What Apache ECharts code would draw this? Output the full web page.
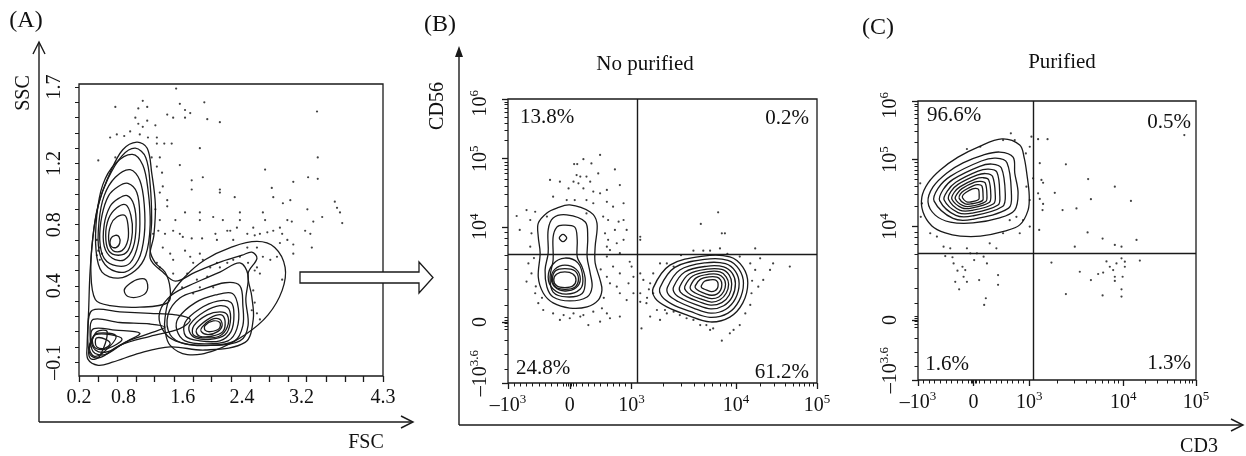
<!DOCTYPE html>
<html>
<head>
<meta charset="utf-8">
<title>NK cell purification</title>
<script src="https://cdn.jsdelivr.net/npm/echarts@6/dist/echarts.min.js"></script>
<style>
  html, body { margin: 0; padding: 0; background: #fff; }
  #chart { width: 1246px; height: 456px; }
</style>
</head>
<body>
<div id="chart"></div>
<script>
// ---------- panel A : FSC / SSC ----------
const fscTicks = [0.2, 0.8, 1.6, 2.4, 3.2, 4.3];
const fscLabels = ['0.2', '0.8', '1.6', '2.4', '3.2', '4.3'];
const fscTickMarks = [0.2, 0.46, 0.71, 0.97, 1.22, 1.48, 1.74, 1.99, 2.25, 2.51, 2.76, 3.02, 3.27, 3.53, 3.79, 4.04, 4.3];
const sscTicks = [-0.1, 0.4, 0.8, 1.2, 1.7];
const sscLabels = ['–0.1', '0.4', '0.8', '1.2', '1.7'];
const sscTickMarks = [-0.1, 0, 0.1, 0.2, 0.3, 0.4, 0.5, 0.6, 0.7, 0.8, 0.9, 1.0, 1.1, 1.2, 1.3, 1.4, 1.5, 1.6, 1.7];

// contour rings, [FSC, SSC]
const ringsA = [
  [[0.98,1.34],[1.12,1.30],[1.18,1.14],[1.23,0.93],[1.21,0.73],[1.16,0.58],[1.33,0.49],[1.50,0.43],[1.77,0.49],[2.13,0.56],[2.40,0.60],[2.53,0.62],[2.60,0.58],[2.48,0.48],[2.53,0.33],[2.55,0.18],[2.44,0.03],[1.90,-0.02],[1.43,0.00],[1.02,-0.04],[0.65,-0.10],[0.46,-0.12],[0.32,-0.08],[0.31,0.01],[0.33,0.24],[0.35,0.50],[0.40,0.77],[0.48,0.96],[0.62,1.14],[0.79,1.29]],
  [[0.96,1.30],[1.10,1.24],[1.16,1.06],[1.18,0.83],[1.16,0.63],[1.23,0.55],[1.36,0.49],[1.43,0.38],[1.40,0.29],[1.02,0.26],[0.62,0.27],[0.42,0.31],[0.36,0.50],[0.39,0.73],[0.46,0.93],[0.59,1.10],[0.78,1.25]],
  // left lobe (lymphocytes)
  [[0.92,1.26],[1.06,1.19],[1.13,1.03],[1.16,0.80],[1.10,0.60],[0.96,0.50],[0.73,0.45],[0.51,0.49],[0.43,0.63],[0.44,0.86],[0.52,1.06],[0.69,1.20]],
  [[0.89,1.16],[1.02,1.09],[1.08,0.93],[1.08,0.73],[1.00,0.57],[0.82,0.49],[0.59,0.52],[0.47,0.63],[0.47,0.82],[0.54,0.99],[0.69,1.11]],
  [[0.86,1.07],[0.98,1.01],[1.02,0.86],[1.00,0.68],[0.89,0.55],[0.71,0.53],[0.54,0.58],[0.48,0.70],[0.51,0.86],[0.60,0.99],[0.73,1.05]],
  [[0.85,0.99],[0.94,0.93],[0.97,0.80],[0.93,0.65],[0.81,0.57],[0.65,0.58],[0.54,0.66],[0.54,0.80],[0.62,0.92],[0.73,0.97]],
  [[0.83,0.93],[0.90,0.86],[0.92,0.75],[0.86,0.63],[0.73,0.60],[0.60,0.63],[0.56,0.73],[0.60,0.84],[0.71,0.91]],
  [[0.82,0.86],[0.86,0.80],[0.86,0.70],[0.78,0.63],[0.66,0.63],[0.60,0.70],[0.63,0.80],[0.71,0.85]],
  [[0.69,0.73],[0.74,0.72],[0.75,0.68],[0.70,0.65],[0.63,0.66],[0.63,0.71]],
  // small island
  [[0.85,0.40],[0.98,0.44],[1.10,0.44],[1.12,0.37],[1.02,0.33],[0.86,0.33],[0.81,0.37]],
  // debris, bottom left
  [[0.38,0.24],[0.75,0.23],[1.16,0.22],[1.50,0.21],[1.70,0.18],[1.56,0.12],[1.16,0.07],[0.75,0.01],[0.48,-0.07],[0.35,-0.05],[0.32,0.11]],
  [[0.39,0.18],[0.75,0.16],[1.16,0.15],[1.36,0.13],[1.16,0.09],[0.82,0.03],[0.55,-0.05],[0.39,-0.03],[0.35,0.08]],
  [[0.40,0.12],[0.69,0.11],[1.02,0.09],[0.86,0.04],[0.59,-0.03],[0.42,-0.02],[0.36,0.06]],
  [[0.42,0.08],[0.62,0.08],[0.78,0.05],[0.59,-0.01],[0.43,-0.01],[0.38,0.04]],
  [[0.44,0.06],[0.56,0.05],[0.62,0.02],[0.54,-0.01],[0.44,0.00],[0.42,0.03]],
  [[0.37,0.05],[0.46,0.09],[0.70,0.07],[0.52,-0.04],[0.40,-0.06],[0.34,-0.01]],
  [[0.36,0.02],[0.44,0.10],[0.58,0.10],[0.48,-0.06],[0.37,-0.08],[0.33,-0.04]],
  // gated population
  [[1.29,0.23],[1.45,0.34],[1.77,0.42],[2.10,0.49],[2.37,0.55],[2.48,0.47],[2.45,0.31],[2.48,0.14],[2.37,0.04],[1.90,0.01],[1.50,0.04],[1.32,0.12]],
  [[1.40,0.21],[1.56,0.32],[1.83,0.37],[2.17,0.42],[2.37,0.40],[2.41,0.27],[2.41,0.14],[2.30,0.04],[1.97,0.01],[1.63,0.02],[1.43,0.08]],
  [[1.54,0.19],[1.77,0.29],[2.04,0.34],[2.27,0.35],[2.35,0.25],[2.33,0.12],[2.21,0.04],[1.90,0.02],[1.63,0.04],[1.52,0.11]],
  [[1.63,0.16],[1.83,0.25],[2.07,0.30],[2.25,0.29],[2.29,0.21],[2.25,0.10],[2.10,0.04],[1.83,0.04],[1.64,0.07]],
  [[1.70,0.15],[1.89,0.23],[2.10,0.27],[2.22,0.25],[2.24,0.16],[2.17,0.08],[1.97,0.05],[1.77,0.06],[1.69,0.10]],
  [[1.75,0.14],[1.93,0.21],[2.10,0.23],[2.20,0.21],[2.20,0.13],[2.09,0.07],[1.87,0.06],[1.74,0.08]],
  [[1.81,0.13],[1.97,0.19],[2.12,0.21],[2.17,0.17],[2.14,0.10],[1.99,0.07],[1.83,0.07],[1.78,0.10]],
  [[1.86,0.13],[1.99,0.18],[2.10,0.18],[2.13,0.14],[2.07,0.10],[1.94,0.08],[1.85,0.10]],
  [[1.90,0.14],[2.01,0.17],[2.10,0.16],[2.09,0.12],[1.97,0.10],[1.90,0.11]]
];
const gateA = [[1.36,0.19],[1.43,0.33],[1.63,0.46],[1.90,0.57],[2.24,0.65],[2.60,0.69],[2.84,0.65],[2.98,0.52],[2.94,0.37],[2.75,0.21],[2.44,0.08],[2.04,-0.02],[1.66,-0.05],[1.43,0.01],[1.36,0.11]];

const dotsA = [
  [1.51,1.69],[1.06,1.61],[0.69,1.57],[1.00,1.56],[1.12,1.57],[1.56,1.59],[1.63,1.55],[1.70,1.53],[1.89,1.60],[1.39,1.52],
  [1.47,1.50],[1.63,1.50],[1.93,1.49],[2.10,1.47],[0.96,1.50],[1.00,1.46],[1.12,1.48],[1.06,1.44],[1.23,1.45],[0.62,1.37],
  [0.71,1.39],[0.81,1.38],[0.89,1.41],[1.02,1.39],[1.13,1.37],[1.25,1.37],[1.25,1.33],[1.35,1.33],[1.45,1.33],[1.83,1.30],
  [3.41,1.54],[0.46,1.22],[0.69,1.24],[1.56,1.19],[1.18,1.24],[1.29,1.24],[1.25,1.18],[1.32,1.14],[2.71,1.16],[1.87,1.11],
  [3.42,1.24],[3.42,1.10],[3.29,1.11],[3.09,1.08],[1.72,1.09],[1.72,1.03],[2.10,1.03],[2.10,1.01],[2.30,0.98],[2.80,1.04],
  [2.82,0.98],[1.33,1.05],[1.29,1.01],[1.39,0.96],[1.23,0.90],[1.39,0.92],[2.95,0.94],[3.05,0.96],[3.65,0.95],[3.68,0.91],
  [3.72,0.88],[3.75,0.81],[3.28,0.90],[3.48,0.85],[3.36,0.82],[3.25,0.76],[3.32,0.74],[3.34,0.65],[3.09,0.67],[3.07,0.82],
  [3.01,0.83],[2.91,0.78],[2.82,0.76],[2.68,0.88],[2.71,0.83],[2.55,0.78],[2.37,0.88],[2.37,0.83],[2.33,0.78],[2.24,0.76],
  [2.14,0.83],[2.01,0.85],[1.83,0.88],[1.83,0.83],[1.63,0.88],[1.50,0.83],[1.47,0.76],[1.29,0.83],[1.27,0.76],[1.20,0.74],
  [1.36,0.74],[1.56,0.74],[1.60,0.72],[1.72,0.71],[1.86,0.71],[2.04,0.74],[2.06,0.70],[2.20,0.76],[2.28,0.70],[2.47,0.74],
  [2.57,0.73],[2.64,0.74],[2.74,0.75],[2.94,0.74],[2.91,0.68],[3.01,0.70],[3.09,0.61],[2.94,0.44],[2.87,0.59],[2.78,0.57],
  [2.68,0.59],[2.60,0.52],[2.57,0.50],[2.64,0.48],[2.55,0.37],[2.57,0.29],[2.60,0.22],[2.64,0.18],[2.53,0.24],[1.33,0.65],
  [1.43,0.61],[1.47,0.57],[1.63,0.63],[1.70,0.59],[1.74,0.55],[1.83,0.61],[1.87,0.57],[1.97,0.52],[2.06,0.55],[2.10,0.52],
  [2.20,0.55],[2.28,0.57],[1.66,0.48],[1.79,0.44],[1.93,0.46],[1.59,0.39],[1.74,0.35],[1.83,0.39],[2.01,0.39],[1.47,0.48],
  [1.29,0.52],[1.25,0.55],[0.48,0.65],[0.46,0.63],[0.44,0.60],[0.51,0.61],[0.48,0.57],[0.44,0.70],[2.47,0.65],[2.37,0.59],
  [2.48,0.55],[2.60,0.65]
];

// ---------- panels B and C : CD3 / CD56 (display scale) ----------
const cd3TickPos = [0, 1, 2, 3.69, 5];
const cd3TickText = ['–10{s|3}', '0', '10{s|3}', '10{s|4}', '10{s|5}'];
const cd3Minor = [0.1, 0.2, 0.3, 0.4, 0.5, 0.6, 0.7, 0.8, 0.9, 0.95, 0.97, 1.03, 1.05, 1.1, 1.2, 1.3, 1.4, 1.5, 1.6, 1.7, 1.8, 1.9,
  2.51, 2.81, 3.02, 3.18, 3.31, 3.43, 3.53, 3.61, 4.08, 4.31, 4.48, 4.61, 4.71, 4.80, 4.87, 4.94];
const cd56TickPos = [0, 2.15, 5.5, 7.9, 10];
const cd56LabelPos = [0.35, 2.15, 5.5, 7.9, 9.85];
const cd56TickText = ['–10{s|3.6}', '0', '10{s|4}', '10{s|5}', '10{s|6}'];
const cd56Minor = [0.5, 1.0, 1.51, 1.9, 2.0, 2.1, 2.2, 2.3, 2.75, 3.3, 4.0, 4.5, 4.85, 5.1, 5.3,
  6.22, 6.64, 6.94, 7.18, 7.37, 7.53, 7.67, 7.79, 8.53, 8.90, 9.16, 9.37, 9.53, 9.67, 9.80, 9.90];

// quadrant gates [CD3, CD56]
const quadB = [2.09, 4.54];
const quadC = [2.07, 4.55];
const pctB = ['13.8%', '0.2%', '24.8%', '61.2%'];
const pctC = ['96.6%', '0.5%', '1.6%', '1.3%'];

const ringsB = [
  [[1.00,6.27],[1.33,6.02],[1.44,5.63],[1.41,4.79],[1.41,4.23],[1.49,3.63],[1.52,3.27],[1.46,2.92],[1.28,2.68],[1.00,2.64],[0.73,2.82],[0.57,3.17],[0.49,3.73],[0.52,4.58],[0.49,5.14],[0.49,5.63],[0.63,5.99],[0.79,6.16]],
  [[0.95,5.92],[1.25,5.67],[1.29,5.14],[1.28,4.44],[1.33,3.87],[1.36,3.38],[1.28,3.03],[1.00,2.89],[0.73,3.03],[0.63,3.38],[0.60,3.98],[0.65,4.58],[0.65,5.39],[0.73,5.81]],
  [[0.89,5.56],[1.08,5.49],[1.12,5.04],[1.12,4.44],[1.20,4.08],[1.25,3.63],[1.20,3.15],[0.95,3.03],[0.73,3.20],[0.68,3.73],[0.73,4.33],[0.73,5.14],[0.79,5.49]],
  [[0.83,5.11],[0.89,5.23],[0.95,5.11],[0.89,4.98]],
  [[0.92,4.40],[1.13,4.23],[1.21,3.73],[1.17,3.31],[0.94,3.13],[0.73,3.31],[0.65,3.73],[0.73,4.19]],
  [[0.92,4.15],[1.10,4.01],[1.17,3.66],[1.10,3.35],[0.92,3.24],[0.76,3.38],[0.70,3.70],[0.76,4.01]],
  [[0.92,4.03],[1.08,3.95],[1.14,3.66],[1.08,3.37],[0.92,3.30],[0.77,3.38],[0.72,3.66],[0.77,3.95]],
  [[0.92,3.91],[1.05,3.84],[1.10,3.63],[1.05,3.42],[0.92,3.36],[0.79,3.42],[0.74,3.63],[0.79,3.84]],
  // CD3+ population
  [[2.35,3.35],[2.62,4.15],[3.16,4.47],[3.59,4.44],[3.80,4.08],[3.88,3.52],[3.80,2.82],[3.59,2.32],[3.27,2.15],[2.90,2.39],[2.57,2.68],[2.38,2.99]],
  [[2.46,3.36],[2.70,4.07],[3.18,4.35],[3.56,4.32],[3.74,4.00],[3.81,3.51],[3.74,2.90],[3.56,2.46],[3.27,2.31],[2.95,2.52],[2.66,2.77],[2.49,3.05]],
  [[2.58,3.37],[2.78,3.98],[3.19,4.23],[3.52,4.20],[3.68,3.93],[3.74,3.50],[3.68,2.97],[3.52,2.59],[3.28,2.46],[3.00,2.64],[2.75,2.87],[2.60,3.10]],
  [[2.68,3.39],[2.86,3.91],[3.21,4.11],[3.49,4.09],[3.63,3.86],[3.68,3.50],[3.63,3.04],[3.49,2.72],[3.28,2.61],[3.04,2.76],[2.83,2.95],[2.70,3.15]],
  [[2.78,3.40],[2.93,3.84],[3.22,4.01],[3.46,4.00],[3.58,3.80],[3.62,3.49],[3.58,3.10],[3.46,2.83],[3.28,2.74],[3.08,2.87],[2.90,3.03],[2.79,3.20]],
  [[2.86,3.40],[2.99,3.77],[3.24,3.92],[3.43,3.91],[3.53,3.74],[3.57,3.48],[3.53,3.16],[3.43,2.93],[3.29,2.85],[3.12,2.96],[2.96,3.10],[2.88,3.24]],
  [[2.95,3.41],[3.05,3.71],[3.25,3.83],[3.41,3.82],[3.49,3.68],[3.52,3.48],[3.49,3.22],[3.41,3.03],[3.29,2.97],[3.15,3.06],[3.03,3.17],[2.96,3.28]],
  [[3.03,3.42],[3.11,3.65],[3.26,3.74],[3.38,3.73],[3.44,3.63],[3.46,3.47],[3.44,3.27],[3.38,3.13],[3.29,3.09],[3.19,3.15],[3.10,3.23],[3.04,3.32]],
  [[3.13,3.43],[3.18,3.58],[3.27,3.63],[3.35,3.63],[3.39,3.56],[3.40,3.46],[3.39,3.34],[3.35,3.25],[3.29,3.22],[3.23,3.26],[3.17,3.31],[3.13,3.37]]
];

const dotsB = [
  [1.49,8.03],[1.22,7.88],[1.07,7.71],[1.12,7.71],[1.35,7.73],[1.73,7.52],[1.46,7.38],[1.11,7.32],[1.17,7.27],[1.27,7.27],
  [1.33,7.09],[1.06,7.09],[1.14,7.03],[0.84,7.09],[0.68,7.15],[0.98,6.85],[1.22,6.85],[1.38,6.74],[1.49,6.68],[1.60,6.80],
  [1.81,6.97],[0.73,6.56],[0.95,6.44],[1.08,6.44],[1.27,6.44],[1.38,6.33],[1.60,6.38],[1.70,6.21],[1.87,6.33],[0.30,6.09],
  [0.44,6.03],[0.36,5.74],[0.63,5.86],[1.27,5.97],[1.54,5.86],[1.62,5.74],[1.79,5.68],[0.14,5.88],[1.73,5.39],[1.87,5.74],
  [1.92,5.39],[0.19,5.39],[0.38,5.27],[1.57,5.27],[1.62,5.04],[1.65,4.68],[1.76,4.92],[1.81,4.57],[1.60,4.45],[1.70,4.10],
  [1.81,3.86],[1.60,3.74],[1.65,3.51],[1.76,3.39],[1.81,3.16],[1.95,3.51],[2.03,3.74],[2.00,4.10],[2.03,3.16],[1.92,2.92],
  [0.36,4.80],[0.33,4.21],[0.38,3.86],[0.30,3.57],[0.44,3.16],[0.49,2.81],[0.57,2.57],[0.73,2.45],[0.90,2.39],[1.06,2.45],
  [1.22,2.39],[1.38,2.51],[1.52,2.63],[1.60,2.45],[1.49,2.16],[1.30,2.04],[1.17,2.34],[1.00,2.28],[0.84,2.22],[1.81,2.34],
  [1.65,2.28],[1.97,4.27],[2.14,5.04],[1.87,5.04],[1.60,4.80],[0.42,4.40],[0.45,3.40],[0.55,3.00],[1.55,3.00],[1.50,4.00],
  [3.40,6.01],[3.12,5.60],[3.46,5.27],[3.51,5.27],[2.14,5.15],[2.35,3.86],[2.14,3.86],[2.19,3.63],[2.30,3.51],[2.14,3.16],
  [2.14,2.86],[2.24,2.81],[2.41,2.57],[2.30,2.34],[2.16,1.92],[2.46,2.22],[2.57,2.45],[2.68,2.51],[2.89,2.28],[3.11,2.04],
  [3.27,1.87],[3.46,1.49],[3.59,1.75],[3.75,2.04],[3.84,2.45],[3.92,2.75],[3.94,3.16],[4.05,3.39],[4.13,3.63],[4.24,3.98],
  [4.29,4.21],[4.08,4.39],[4.00,4.74],[3.75,4.45],[3.43,4.74],[3.00,4.66],[3.16,4.66],[3.27,4.66],[4.56,4.10],[4.00,3.98],
  [3.92,4.21],[2.46,4.21],[2.57,4.21],[2.68,4.10],[2.35,3.16],[2.54,2.57],[2.78,2.39],[3.00,2.22],[3.21,2.04],[3.32,1.92],
  [3.65,1.87],[2.28,3.30],[2.25,3.00],[3.95,3.60],[2.80,4.50],[3.55,4.55]
];

const ringsC = [
  [[1.51,8.64],[1.83,8.42],[1.91,7.96],[1.96,7.35],[2.00,6.63],[1.98,6.09],[1.83,5.56],[1.56,5.34],[1.12,5.16],[0.76,5.16],[0.49,5.27],[0.25,5.52],[0.09,6.02],[0.07,6.56],[0.18,7.06],[0.40,7.53],[0.72,7.99],[1.08,8.35]],
  [[1.47,8.17],[1.71,7.99],[1.74,7.42],[1.80,6.70],[1.74,6.09],[1.47,5.81],[0.99,5.63],[0.58,5.66],[0.31,5.91],[0.18,6.38],[0.27,6.92],[0.52,7.42],[0.81,7.78],[1.17,8.06]],
  [[1.40,7.95],[1.60,7.79],[1.68,6.68],[1.63,6.16],[0.98,5.76],[0.63,5.79],[0.29,6.41],[0.36,6.87],[0.58,7.30],[1.14,7.85]],
  [[1.33,7.74],[1.50,7.60],[1.57,6.66],[1.52,6.22],[0.98,5.88],[0.68,5.90],[0.39,6.43],[0.45,6.82],[0.63,7.19],[1.11,7.66]],
  [[1.27,7.56],[1.42,7.45],[1.47,6.65],[1.44,6.27],[0.97,5.98],[0.72,6.00],[0.47,6.45],[0.53,6.78],[0.68,7.09],[1.08,7.49]],
  [[1.22,7.40],[1.34,7.30],[1.39,6.63],[1.36,6.32],[0.97,6.08],[0.75,6.09],[0.55,6.47],[0.59,6.75],[0.72,7.01],[1.06,7.34]],
  [[1.17,7.25],[1.27,7.18],[1.31,6.62],[1.28,6.36],[0.96,6.16],[0.79,6.17],[0.61,6.48],[0.65,6.72],[0.76,6.93],[1.04,7.21]],
  [[1.13,7.12],[1.21,7.06],[1.24,6.61],[1.22,6.40],[0.96,6.23],[0.81,6.25],[0.67,6.50],[0.71,6.69],[0.79,6.86],[1.02,7.09]],
  [[1.08,7.00],[1.15,6.95],[1.17,6.60],[1.16,6.43],[0.95,6.31],[0.84,6.32],[0.74,6.51],[0.76,6.66],[0.83,6.79],[1.00,6.97]],
  [[1.04,6.87],[1.09,6.83],[1.10,6.59],[1.09,6.47],[0.95,6.38],[0.87,6.39],[0.80,6.53],[0.81,6.63],[0.86,6.72],[0.98,6.85]]
];

const dotsC = [
  [4.79,8.78],[1.67,8.84],[1.74,8.60],[2.04,8.72],[2.16,8.63],[2.33,8.63],[2.01,8.36],[1.94,8.12],[2.19,7.77],[2.66,7.73],
  [2.07,7.23],[2.22,7.17],[2.25,7.07],[3.06,7.20],[3.54,6.93],[2.46,6.71],[2.16,6.69],[2.19,6.49],[2.25,6.31],[2.24,6.09],
  [3.11,6.48],[3.83,6.42],[2.85,6.15],[2.60,6.09],[2.01,5.50],[2.18,5.38],[3.05,5.29],[3.32,5.07],[3.93,5.02],[2.82,4.78],
  [3.54,4.84],[3.66,4.78],[2.40,4.21],[2.91,3.88],[3.11,3.58],[3.24,3.80],[3.33,3.85],[3.39,4.25],[3.45,4.06],[3.51,3.94],
  [3.54,3.70],[3.57,4.18],[3.66,4.36],[3.72,4.24],[3.72,4.06],[3.68,3.70],[3.54,3.55],[3.66,3.25],[3.66,2.99],[3.99,4.28],
  [2.66,3.08],[3.32,3.03],[0.49,4.44],[0.62,4.40],[0.64,4.18],[0.71,3.92],[0.80,4.06],[0.85,3.94],[0.82,3.70],[0.88,3.52],
  [0.67,3.52],[0.74,3.25],[1.10,3.58],[1.18,4.42],[1.24,4.18],[1.44,3.76],[1.44,3.41],[1.22,2.93],[1.19,2.69],[1.01,4.30],
  [0.94,4.54],[0.46,4.78],[0.58,4.72],[0.88,4.72],[1.06,4.54],[1.41,4.72],[1.29,4.90],[1.53,5.26],[1.83,5.26],[0.04,7.05],
  [0.07,6.33],[0.05,5.85],[0.22,5.26],[0.34,5.14],[1.95,6.93],[2.01,6.45],[1.89,5.73],[1.12,8.36],[0.88,8.28],[1.53,8.60],
  [1.77,5.85],[1.65,5.73]
];

const SERIF = 'Liberation Serif';
const INK = '#111';
const LINE = '#1a1a1a';

const pick = (pos, text) => (v) => {
  const i = pos.findIndex(p => Math.abs(p - v) < 1e-6);
  return i < 0 ? '' : text[i];
};
const supRich = { s: { fontSize: 13, lineHeight: 12, verticalAlign: 'top', fontFamily: SERIF, color: INK } };

function mainAxis(gridIndex, min, max, ticks, labelPos, labelFn, margin, rotate, rich, position) {
  return {
    type: 'value', gridIndex, min, max, position,
    axisLine: { show: false, onZero: false },
    splitLine: { show: false },
    axisTick: { show: true, customValues: ticks, length: 6, lineStyle: { color: LINE, width: 1.3 } },
    axisLabel: {
      show: true, customValues: labelPos, formatter: labelFn, margin, rotate: rotate || 0,
      fontFamily: SERIF, fontSize: 20, lineHeight: rich ? 26 : 20, color: INK, rich: rich || {}
    }
  };
}
function minorAxis(gridIndex, min, max, ticks, position) {
  return {
    type: 'value', gridIndex, min, max, position,
    axisLine: { show: false, onZero: false }, splitLine: { show: false }, axisLabel: { show: false },
    axisTick: { show: true, customValues: ticks, length: 3.5, lineStyle: { color: LINE, width: 1 } }
  };
}

function ringSeries(rings, xi, yi, smooth) {
  return {
    type: 'custom', xAxisIndex: xi, yAxisIndex: yi, silent: true,
    data: rings.map(r => r[0]),
    renderItem: (params, api) => {
      const ring = rings[params.dataIndex];
      return {
        type: 'polygon',
        shape: { points: ring.map(p => api.coord(p)), smooth: smooth },
        style: { fill: 'none', stroke: LINE, lineWidth: 1.3 }
      };
    }
  };
}
function dotSeries(data, xi, yi, quad) {
  const s = {
    type: 'scatter', xAxisIndex: xi, yAxisIndex: yi, silent: true,
    data, symbolSize: 2.2, itemStyle: { color: INK }
  };
  if (quad) {
    s.markLine = {
      silent: true, symbol: ['none', 'none'], label: { show: false },
      lineStyle: { color: LINE, width: 1.4, type: 'solid' },
      data: [{ xAxis: quad[0] }, { yAxis: quad[1] }]
    };
  }
  return s;
}

function txt(text, x, y, size, align, rot) {
  return {
    type: 'text', x, y, rotation: rot || 0, silent: true,
    style: {
      text, fill: INK, font: size + 'px "' + SERIF + '"',
      align: align || 'center', verticalAlign: 'middle',
      textAlign: align || 'center', textVerticalAlign: 'middle'
    }
  };
}
const stroke = { stroke: LINE, lineWidth: 1.4, fill: 'none' };

const chart = echarts.init(document.getElementById('chart'), null, { renderer: 'canvas' });
chart.setOption({
  animation: false,
  backgroundColor: '#fff',
  grid: [
    { left: 79, top: 84, width: 304, height: 292, show: true, borderColor: LINE, borderWidth: 1.3 },
    { left: 508, top: 99, width: 309, height: 284, show: true, borderColor: LINE, borderWidth: 1.3 },
    { left: 918, top: 101, width: 278, height: 279, show: true, borderColor: LINE, borderWidth: 1.3 }
  ],
  xAxis: [
    mainAxis(0, 0.2, 4.3, fscTickMarks, fscTicks, pick(fscTicks, fscLabels), 12, 0, null, 'bottom'),
    mainAxis(1, 0, 5, cd3TickPos, cd3TickPos, pick(cd3TickPos, cd3TickText), 10, 0, supRich, 'bottom'),
    mainAxis(2, 0, 5, cd3TickPos, cd3TickPos, pick(cd3TickPos, cd3TickText), 10, 0, supRich, 'bottom'),
    minorAxis(1, 0, 5, cd3Minor, 'bottom'),
    minorAxis(2, 0, 5, cd3Minor, 'bottom')
  ],
  yAxis: [
    Object.assign(mainAxis(0, -0.19, 1.72, sscTickMarks, sscTicks, pick(sscTicks, sscLabels), 14, 90, null, 'left'),
      { axisTick: { show: true, customValues: sscTickMarks, length: 4, lineStyle: { color: LINE, width: 1 } } }),
    mainAxis(1, 0, 10, cd56TickPos, cd56LabelPos, pick(cd56LabelPos, cd56TickText), 14, 90, supRich, 'left'),
    mainAxis(2, 0, 10, cd56TickPos, cd56LabelPos, pick(cd56LabelPos, cd56TickText), 14, 90, supRich, 'left'),
    minorAxis(1, 0, 10, cd56Minor, 'left'),
    minorAxis(2, 0, 10, cd56Minor, 'left')
  ],
  series: [
    dotSeries(dotsA, 0, 0),
    ringSeries(ringsA, 0, 0, 0.35),
    ringSeries([gateA], 0, 0, 0.4),
    dotSeries(dotsB, 1, 1, quadB),
    ringSeries(ringsB, 1, 1, 0.35),
    dotSeries(dotsC, 2, 2, quadC),
    ringSeries(ringsC, 2, 2, 0.35)
  ],
  graphic: [
    // outer axes with arrows
    { type: 'line', shape: { x1: 39, y1: 422, x2: 39, y2: 43 }, style: stroke, silent: true },
    { type: 'polyline', shape: { points: [[33, 54], [39, 42], [45, 54]] }, style: stroke, silent: true },
    { type: 'line', shape: { x1: 39, y1: 422, x2: 412, y2: 422 }, style: stroke, silent: true },
    { type: 'polyline', shape: { points: [[401, 416], [413, 422], [401, 428]] }, style: stroke, silent: true },
    { type: 'line', shape: { x1: 459, y1: 425, x2: 459, y2: 50 }, style: stroke, silent: true },
    { type: 'polygon', shape: { points: [[455, 57], [459, 46], [463, 57]] }, style: { fill: LINE }, silent: true },
    { type: 'line', shape: { x1: 459, y1: 425, x2: 1242, y2: 425 }, style: stroke, silent: true },
    { type: 'polyline', shape: { points: [[1231, 419], [1243, 425], [1231, 431]] }, style: stroke, silent: true },
    // hollow arrow from gate to panel B
    { type: 'polygon', shape: { points: [[300, 272], [419, 272], [419, 262], [433, 277.5], [419, 293], [419, 283], [300, 283]] },
      style: { fill: '#fff', stroke: LINE, lineWidth: 1.3 }, silent: true },
    // texts
    txt('(A)', 26, 21, 24), txt('(B)', 440, 25, 24), txt('(C)', 878, 28, 24),
    txt('SSC', 24, 93, 20, 'center', Math.PI / 2),
    txt('FSC', 366, 443, 20),
    txt('CD56', 438, 106, 20, 'center', Math.PI / 2),
    txt('CD3', 1199, 447, 20),
    txt('No purified', 645, 64, 21),
    txt('Purified', 1062, 62, 21),
    txt(pctB[0], 547, 117, 21), txt(pctB[1], 809, 118, 21, 'right'),
    txt(pctB[2], 543, 368, 21), txt(pctB[3], 809, 372, 21, 'right'),
    txt(pctC[0], 954, 115, 21), txt(pctC[1], 1191, 122, 21, 'right'),
    txt(pctC[2], 947, 364, 21), txt(pctC[3], 1191, 363, 21, 'right')
  ]
});
</script>
</body>
</html>
